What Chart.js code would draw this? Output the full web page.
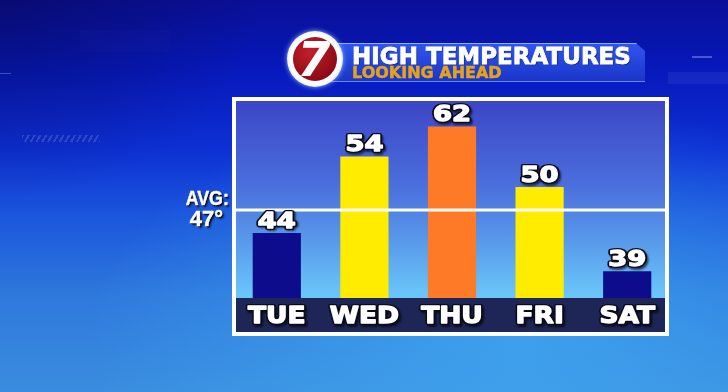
<!DOCTYPE html>
<html><head><meta charset="utf-8">
<script src="https://cdn.jsdelivr.net/npm/chart.js@4/dist/chart.umd.min.js"></script>
<style>
html,body{margin:0;padding:0;width:728px;height:392px;overflow:hidden;}
body{position:relative;
 background:
  radial-gradient(ellipse 260px 200px at 0px 0px, rgba(5,5,60,0.4), rgba(5,5,60,0) 100%),
  radial-gradient(ellipse 430px 230px at 520px 330px, rgba(70,185,250,0.55), rgba(70,185,250,0) 100%),
  linear-gradient(to bottom,#0a0f96 0%,#0719bc 18%,#0d30d4 38%,#1b56dc 55%,#2e78dc 75%,#3a8ddf 100%);
 font-family:"DejaVu Sans",sans-serif;}
.deco{position:absolute;}
#panel{position:absolute;left:232px;top:97px;width:437px;height:239px;box-sizing:border-box;border:4px solid #fff;
 background:linear-gradient(to bottom,#3c46c6 0%,#4a6ddc 35%,#5898ea 60%,#6ac6fa 84%,#6ac6fa 100%);}
#strip{position:absolute;left:0;right:0;top:197px;bottom:0;background:#1d2656;}
#c{position:absolute;left:0;top:0;}
#banner{position:absolute;left:330px;top:43px;width:315px;height:39px;box-sizing:border-box;border-top:1px solid #8fb0ff;border-bottom:1px solid #6a88ee;
 background:linear-gradient(#2f55ee,#1a36c8);clip-path:polygon(0 0,306px 0,315px 8px,315px 39px,0 39px);}
#t1{position:absolute;left:352px;top:45px;font:bold 23px/1 "DejaVu Sans";color:#fff;white-space:nowrap;-webkit-text-stroke:0.8px #fff;text-shadow:1px 1px 1px rgba(0,0,40,.6);}
#t2{position:absolute;left:352px;top:65px;font:bold 16px/1 "DejaVu Sans";color:#e6a21a;white-space:nowrap;-webkit-text-stroke:0.5px #e6a21a;}
#logo{position:absolute;left:287px;top:31px;width:56px;height:56px;border-radius:50%;
 background:radial-gradient(circle,#ffffff 62%,#d8e6ff 78%,#a8c4ff 100%);box-shadow:0 0 5px rgba(160,200,255,.9);}
#red{position:absolute;left:6px;top:6px;width:44px;height:44px;border-radius:50%;overflow:hidden;
 background:radial-gradient(circle at 40% 35%,#c4202a,#8a0a14 75%);}
#red span{position:absolute;left:-2px;right:0;top:-2px;text-align:center;color:#fff;font:italic bold 48px/48px "DejaVu Sans";}
.avg{position:absolute;font-family:"Liberation Sans",Arial,sans-serif;font-weight:bold;color:#fff;line-height:1;white-space:nowrap;
 -webkit-text-stroke:0.5px #fff;text-shadow:1px 1px 0 #000,2px 2px 2px rgba(0,0,0,.7);}
#avg1{right:499px;top:187px;font-size:21px;transform:scaleX(0.85);transform-origin:right center;}
#avg2{right:505px;top:208px;font-size:22px;}
</style></head>
<body>
<div class="deco" style="left:668px;top:72px;width:60px;height:12px;background:rgba(255,255,255,0.06)"></div>
<div class="deco" style="left:692px;top:56px;width:20px;height:2px;background:rgba(200,210,255,0.35)"></div>
<div class="deco" style="left:0px;top:73px;width:11px;height:1px;background:rgba(200,210,255,0.3)"></div>
<div class="deco" style="left:80px;top:30px;width:90px;height:22px;background:rgba(30,40,170,0.12)"></div>
<div class="deco" style="left:22px;top:135px;width:78px;height:7px;background:repeating-linear-gradient(120deg,rgba(200,210,255,0.18) 0 2px,rgba(0,0,0,0) 2px 5px)"></div>
<div id="panel"><div id="strip"></div></div>
<canvas id="c" width="728" height="392"></canvas>
<div id="banner"></div>
<div id="t1">HIGH TEMPERATURES</div>
<div id="t2">LOOKING AHEAD</div>
<div id="logo"><div id="red"><span>7</span></div></div>
<div class="avg" id="avg1">AVG:</div>
<div class="avg" id="avg2">47°</div>
<script>
// ---- data ----
const days = ["TUE", "WED", "THU", "FRI", "SAT"];
const highTemps = [44, 54, 62, 50, 39];
const avgTemp = 47;

// ---- scale settings (the graphic compresses values above 54 so the tallest bar fits) ----
const yMin = 35.5;
const yMax = 61.25;
const breakAt = 54;
const compress = 0.49;

function barColor(v) {
  if (v >= 60) return "#ff7a26";
  if (v > avgTemp) return "#ffec00";
  return "#0c0c8c";
}

class BrokenLinearScale extends Chart.LinearScale {
  getPixelForValue(v) {
    const t = v > breakAt ? breakAt + (v - breakAt) * compress : v;
    return super.getPixelForValue(t);
  }
  getValueForPixel(p) {
    const t = super.getValueForPixel(p);
    return t > breakAt ? breakAt + (t - breakAt) / compress : t;
  }
}
BrokenLinearScale.id = "brokenLinear";
BrokenLinearScale.defaults = Chart.LinearScale.defaults;
Chart.register(BrokenLinearScale);

function drawLabel(ctx, text, x, yBase, font, sx) {
  ctx.save();
  ctx.translate(x, yBase);
  ctx.scale(sx, 1);
  ctx.font = font;
  ctx.textAlign = "center";
  ctx.textBaseline = "alphabetic";
  ctx.lineJoin = "round";
  ctx.shadowColor = "rgba(0,0,0,0.6)";
  ctx.shadowOffsetX = 1.5; ctx.shadowOffsetY = 1.5; ctx.shadowBlur = 2;
  ctx.strokeStyle = "#0a0a18";
  ctx.lineWidth = 4;
  ctx.strokeText(text, 0, 0);
  ctx.shadowColor = "rgba(0,0,0,0)";
  ctx.strokeStyle = "#ffffff";
  ctx.lineWidth = 1.3;
  ctx.strokeText(text, 0, 0);
  ctx.fillStyle = "#ffffff";
  ctx.fillText(text, 0, 0);
  ctx.restore();
}

const overlay = {
  id: "overlay",
  afterDatasetsDraw(chart) {
    const { ctx, chartArea, scales } = chart;
    const xs = scales.x, ys = scales.y;
    // average line
    const yAvg = ys.getPixelForValue(avgTemp);
    ctx.save();
    ctx.fillStyle = "#ffffff";
    ctx.fillRect(236, yAvg - 1.5, 430, 3);
    ctx.restore();
    // value labels
    const meta = chart.getDatasetMeta(0);
    meta.data.forEach((el, i) => {
      drawLabel(ctx, String(highTemps[i]), el.x, el.y - 5, "bold 21px 'DejaVu Sans'", 1.3);
    });
    // day labels
    days.forEach((d, i) => {
      drawLabel(ctx, d, xs.getPixelForTick(i), chartArea.bottom + 25, "bold 23px 'DejaVu Sans'", 1.15);
    });
  }
};

new Chart(document.getElementById("c"), {
  type: "bar",
  data: {
    labels: days,
    datasets: [{
      data: highTemps,
      base: yMin,
      backgroundColor: highTemps.map(barColor),
      borderWidth: 0,
      barPercentage: 0.55,
      categoryPercentage: 1
    }]
  },
  options: {
    responsive: false,
    animation: false,
    devicePixelRatio: 1,
    events: [],
    layout: { padding: { left: 233, right: 57, top: 101, bottom: 94 } },
    plugins: { legend: { display: false }, tooltip: { enabled: false } },
    scales: {
      x: { display: false },
      y: { type: "brokenLinear", display: false, min: yMin, max: yMax }
    }
  },
  plugins: [overlay]
});
</script>
</body></html>
